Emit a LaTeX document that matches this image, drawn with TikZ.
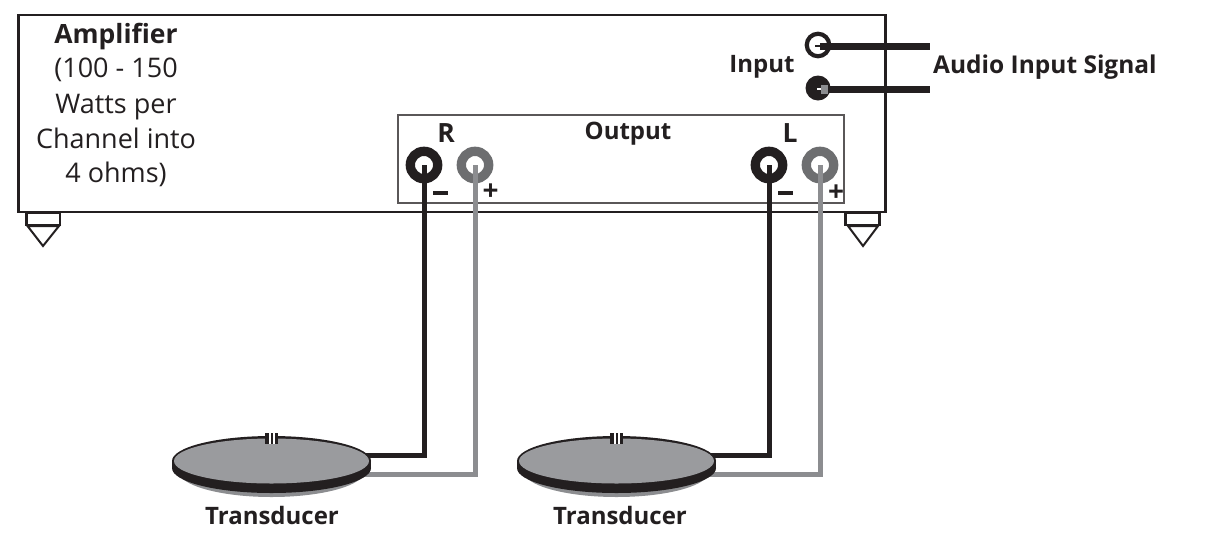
\documentclass[tikz,border=0pt]{standalone}
\usepackage{fontspec}
\setmainfont{Open Sans}
\definecolor{ink}{HTML}{231F20}
\definecolor{ringgray}{HTML}{6D6E70}
\definecolor{wiregray}{HTML}{8C8D90}
\definecolor{plate}{HTML}{9A9B9E}
\tikzset{
  x=1pt,y=-1pt,
  lbl/.style={inner sep=0pt,anchor=base,text=ink,font=\fontsize{27}{34}\selectfont},
  blbl/.style={inner sep=0pt,anchor=base,text=ink,font=\fontsize{24}{34}\selectfont\bfseries},
  bigbl/.style={inner sep=0pt,anchor=base,text=ink,font=\fontsize{26.5}{34}\selectfont\bfseries},
  sgn/.style={inner sep=0pt,text=ink,font=\fontsize{28}{28}\selectfont\bfseries},
  blackwire/.style={draw=ink,line width=5pt,line join=miter},
  graywire/.style={draw=wiregray,line width=5pt,line join=miter},
  outjackb/.style={circle,draw=ink,line width=9.3pt,fill=white,minimum size=27.4pt,inner sep=0pt},
  outjackg/.style={circle,draw=ringgray,line width=9.3pt,fill=white,minimum size=27.4pt,inner sep=0pt},
  foottop/.style={draw=ink,line width=2.5pt,fill=white},
  foottri/.style={draw=ink,line width=2pt,fill=white,line join=miter},
}
\begin{document}
\begin{tikzpicture}
\useasboundingbox (0,0) rectangle (1207,542);
% amplifier body
\node[draw=ink,line width=2.5pt,minimum width=867pt,minimum height=197pt,inner sep=0pt] (amp) at (452,113.5) {};
\node[draw=ink!75,line width=1.4pt,minimum width=446pt,minimum height=88pt,inner sep=0pt] (outbox) at (621,159) {};
% feet
\draw[foottop] (26.5,213) rectangle (60,225);
\draw[foottri] (27.5,226) -- (59,226) -- (43,246) -- cycle;
\draw[foottop] (845.5,213) rectangle (879.5,225);
\draw[foottri] (848,226) -- (878,226) -- (863,246) -- cycle;
% wire ends at the discs
\foreach \n/\cx in {a/271.5,b/616.5}{
  \coordinate (blk\n) at (\cx+80,455.5);
  \coordinate (gry\n) at (\cx+80,474);
}
% output jacks
\node[outjackb] (rm) at (424,165) {};
\node[outjackg] (rp) at (475,165) {};
\node[outjackb] (lm) at (769,165) {};
\node[outjackg] (lp) at (820,165) {};
% wires
\draw[blackwire] (rm.center) -- (424,455.5) -- (blka);
\draw[graywire] (rp.center) -- (475,474) -- (grya);
\draw[blackwire] (lm.center) -- (769,455.5) -- (blkb);
\draw[graywire] (lp.center) -- (820,474) -- (gryb);
% discs
\foreach \n/\cx in {a/271.5,b/616.5}{
  \fill[wiregray] (\cx,471) ellipse [x radius=93,y radius=26];
  \fill[ink] (\cx,468) ellipse [x radius=99.5,y radius=25];
  \fill[ink] (\cx,461) ellipse [x radius=99.5,y radius=25];
  \fill[ink] (\cx-99.5,461) rectangle (\cx+99.5,468);
  \fill[plate] (\cx,461) ellipse [x radius=97.5,y radius=22.5];
  \fill[ink] (\cx-6.5,432.7) rectangle (\cx+6.5,444);
  \fill[white] (\cx-2.5,432.7) rectangle (\cx-0.5,444);
  \fill[white] (\cx+1.8,432.7) rectangle (\cx+3.8,444);
}
% input jacks
\node[circle,draw=ink,line width=4.2pt,fill=white,minimum size=22.5pt,inner sep=0pt] (inA) at (818,45) {};
\node[circle,fill=ink,minimum size=25pt,inner sep=0pt] (inB) at (818,88) {};
\coordinate (sigA) at (930,46);
\coordinate (sigB) at (930,89.7);
\fill[white] (817,87.5) rectangle (821,90);
\fill[wiregray] (821,85) rectangle (828,94);
\draw[ink,line width=7pt] (820,46) -- (sigA);
\draw[ink,line width=2pt] (815,45.5) -- (820,45.5);
\draw[ink,line width=7pt] (828,89.7) -- (sigB);
% texts
\node[bigbl] (t1) at (116,43) {Amplifier};
\node[lbl] (t2) at (116,77) {(100 - 150};
\node[lbl] (t3) at (116,113) {Watts per};
\node[lbl] (t4) at (116,148) {Channel into};
\node[lbl] (t5) at (116,182) {4 ohms)};
\node[blbl] (t6) at (762,72) {Input};
\node[blbl,font=\fontsize{24.5}{34}\selectfont\bfseries,anchor=base west] (t7) at (933,73) {Audio Input Signal};
\node[blbl] (t8) at (628,139) {Output};
\node[bigbl] (t9) at (446,142) {R};
\node[bigbl] (t10) at (790,142) {L};
\node[blbl] (t11) at (272,524) {Transducer};
\node[blbl] (t12) at (620,524) {Transducer};
\fill[ink] (433,191) rectangle (447.5,195);
\fill[ink] (778,191) rectangle (792.5,195);
\node[sgn] (p1) at (490.5,192) {+};
\node[sgn] (p2) at (836,193) {+};
\end{tikzpicture}
\end{document}
